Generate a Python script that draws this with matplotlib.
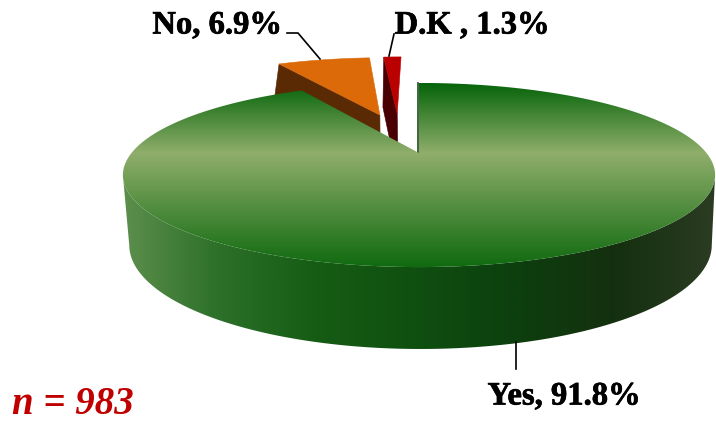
import numpy as np
import matplotlib
matplotlib.use("Agg")
import matplotlib.pyplot as plt
import matplotlib.patheffects as pe
from matplotlib.colors import LinearSegmentedColormap as LSC
from matplotlib.patches import Polygon

categories = ["Yes", "No", "D.K "]
values = [91.8, 6.9, 1.3]
sample_note = "n = 983"

W, H = 716, 422
fig = plt.figure(figsize=(W / 100, H / 100), dpi=100)
ax = fig.add_axes([0, 0, 1, 1])
ax.set_xlim(0, W)
ax.set_ylim(H, 0)
ax.axis("off")

TOP = dict(cx=419.0, y=153.0, a=86.8, b=287.5, k=0.239)
BOT = dict(cx=420.5, y=226.3, a=100.6, b=286.5, k=0.18)


def proj(theta, r=1.0, off=(0.0, 0.0), level=TOP):
    """theta: clockwise degrees from 12 o'clock on a unit disc."""
    t = np.radians(theta)
    u = r * np.sin(t) + off[0]
    v = r * np.cos(t) + off[1]
    d = 1 + level["k"] * v
    return np.column_stack([level["cx"] + level["b"] * u / d, level["y"] - level["a"] * v / d])


def fill(pts, color=None, grad=None, stops=None, vertical=True, z=1):
    if grad is None:
        ax.add_patch(Polygon(pts, closed=True, fc=color, ec=color, lw=0.4, zorder=z))
        return
    patch = Polygon(pts, closed=True, fc="none", ec="none", zorder=z)
    ax.add_patch(patch)
    cmap = LSC.from_list("g", grad)
    lo, hi = stops
    g = np.linspace(0, 1, 512)
    img = g[:, None] if vertical else g[None, :]
    ext = (0, W, hi, lo) if vertical else (lo, hi, H, 0)
    im = ax.imshow(img, cmap=cmap, extent=ext, aspect="auto", zorder=z, vmin=0, vmax=1)
    im.set_clip_path(patch)


ang = 3.6 * np.cumsum([0] + values)
a_yes = (ang[0], ang[1])
a_no = (ang[1], ang[2])
a_dk = (ang[2], ang[3])

off_no = (-0.152, 0.4885)
off_dk = (-0.085, 0.505)

# detached slices: cut face, then top face
for rng, off, side, top, z in [(a_no, off_no, "#5a2a05", "#dc6a08", 2),
                               (a_dk, off_dk, "#480002", "#bb0000", 2)]:
    apex_t = proj(0, 0, off)
    apex_b = proj(0, 0, off, BOT)
    rim_t = proj(rng[0], 1, off)
    rim_b = proj(rng[0], 1, off, BOT)
    fill(np.vstack([rim_t, apex_t, apex_b, rim_b]), color=side, z=z)
    th = np.linspace(rng[0], rng[1], 40)
    fill(np.vstack([apex_t, proj(th, 1, off)]), color=top, z=z + 1)

# large slice: outer wall
th_top = np.linspace(104, 256, 200)
th_bot = np.linspace(100.4, 259.6, 200)
wall = np.vstack([proj(th_top), proj(th_bot[::-1], level=BOT)])
fill(wall, grad=["#5f904e", "#2c7029", "#165c15", "#0f4f10", "#0d3f0e", "#14300f", "#2b3c22"],
     stops=(118, 716), vertical=False, z=5)

# cut face of the large slice, almost edge-on
ax.plot([TOP["cx"] - 1, TOP["cx"] - 1], [proj(0.0)[0, 1], TOP["y"]], color="#1f4a1f", lw=1.2, zorder=5)

# large slice: top face
th = np.linspace(a_yes[0], a_yes[1], 400)
top = np.vstack([[TOP["cx"], TOP["y"]], proj(th)])
fill(top, grad=[(0, "#06640a"), (0.38, "#8fae6b"), (1, "#106a10")],
     stops=(83, 267), vertical=True, z=6)

# leader lines
for xs, ys in [([287, 298, 320], [33, 33, 59]),
               ([394, 389], [34, 56]),
               ([516, 516], [342, 369])]:
    ax.plot(xs, ys, color="black", lw=1.2, zorder=7)

font = dict(family="Liberation Serif", weight="bold", fontsize=23.5, color="black", zorder=8,
            path_effects=[pe.withStroke(linewidth=0.5, foreground="black")])
ax.text(217, 25, f"{categories[1]}, {values[1]}%", ha="center", va="center", **font)
ax.text(472, 25, f"{categories[2]}, {values[2]}%", ha="center", va="center", **font)
ax.text(564, 396, f"{categories[0]}, {values[0]}%", ha="center", va="center", **font)
ax.text(12, 405, sample_note, ha="left", va="center", family="Liberation Serif",
        weight="bold", style="italic", fontsize=28, color="#c00000", zorder=8)

ax.set_xlim(0, W)
ax.set_ylim(H, 0)
fig.savefig("out.png", dpi=100, facecolor="white")
